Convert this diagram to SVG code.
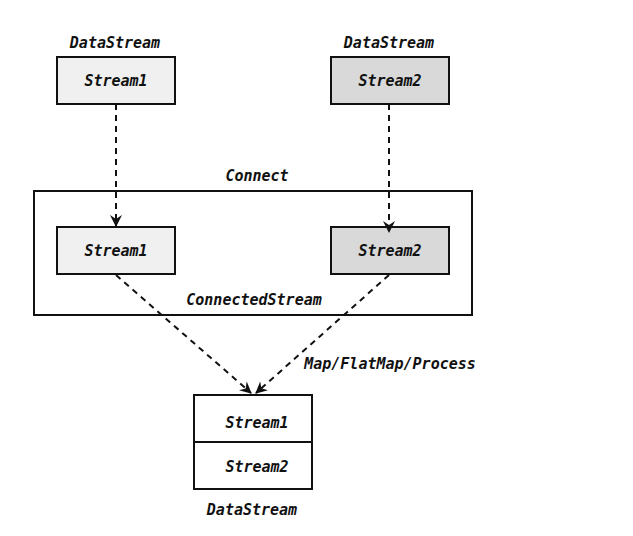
<svg xmlns="http://www.w3.org/2000/svg" width="633" height="536" viewBox="0 0 633 536">
<style>
text{font-family:"DejaVu Sans Mono","Liberation Mono",monospace;font-weight:bold;font-style:italic;font-size:15px;fill:#111;text-anchor:middle}
.box{stroke:#111;stroke-width:2}
.s1{fill:#f0f0f0}
.s2{fill:#d9d9d9}
.plain{fill:#fff;stroke:#111;stroke-width:2}
.conn{fill:none;stroke:#111;stroke-width:2;stroke-dasharray:6,5}
</style>
<defs>
<marker id="arr" viewBox="0 0 12 12" refX="11" refY="6" markerWidth="12" markerHeight="12" markerUnits="userSpaceOnUse" orient="auto">
<path d="M0,0 L12,6 L0,12 L4,6 Z" fill="#111"/>
</marker>
</defs>
<rect x="0" y="0" width="633" height="536" fill="#fff"/>
<g id="src1">
<text x="115" y="48">DataStream</text>
<rect class="box s1" x="57" y="57" width="118" height="47"/>
<text x="116" y="86">Stream1</text>
</g>
<g id="src2">
<text x="389" y="48">DataStream</text>
<rect class="box s2" x="331" y="57" width="118" height="47"/>
<text x="390" y="86">Stream2</text>
</g>
<g id="connect">
<text x="257" y="181">Connect</text>
<rect class="plain" x="34" y="191" width="438" height="124" fill="none"/>
<text x="254" y="305">ConnectedStream</text>
</g>
<g id="c1">
<rect class="box s1" x="57" y="227" width="118" height="47"/>
<text x="116" y="256">Stream1</text>
</g>
<g id="c2">
<rect class="box s2" x="331" y="227" width="118" height="47"/>
<text x="390" y="256">Stream2</text>
</g>
<g id="result">
<rect class="plain" x="194" y="395" width="118" height="94"/>
<line x1="194" y1="442" x2="312" y2="442" stroke="#111" stroke-width="2"/>
<text x="257" y="428">Stream1</text>
<text x="257" y="472">Stream2</text>
<text x="252" y="515">DataStream</text>
</g>
<g id="connectors">
<line class="conn" x1="116" y1="104" x2="116" y2="226" marker-end="url(#arr)"/>
<line class="conn" x1="389" y1="104" x2="389" y2="232" marker-end="url(#arr)"/>
<line class="conn" x1="116" y1="275" x2="251" y2="393" marker-end="url(#arr)"/>
<line class="conn" x1="389" y1="275" x2="256" y2="393" marker-end="url(#arr)"/>
<text x="390" y="369">Map/FlatMap/Process</text>
</g>
</svg>
